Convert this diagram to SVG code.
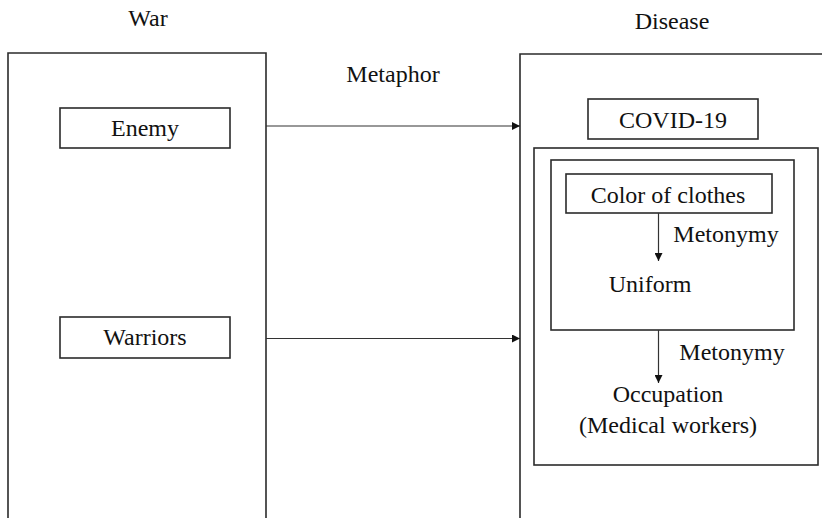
<svg xmlns="http://www.w3.org/2000/svg" width="822" height="518" viewBox="0 0 822 518">
  <style>
    .box { fill: none; stroke: #2b2b2b; stroke-width: 1.6; }
    .lbl { font-family: 'Liberation Serif', 'Times New Roman', serif; font-size: 24px; fill: #111; text-anchor: middle; }
    .link { stroke: #333; stroke-width: 1.2; fill: none; }
  </style>
  <defs>
    <marker id="arrow" viewBox="0 0 10 10" refX="10" refY="5" markerWidth="8" markerHeight="8" markerUnits="userSpaceOnUse" orient="auto">
      <path d="M0,0 L10,5 L0,10 Z" fill="#111"/>
    </marker>
  </defs>

  <rect width="822" height="518" fill="#fff"/>

  <!-- source domain -->
  <g id="war">
    <text class="lbl" x="148" y="26">War</text>
    <path class="box" d="M8,520 V53 H266 V520"/>
  </g>
  <g id="enemy">
    <rect class="box" x="60" y="108" width="170" height="40"/>
    <text class="lbl" x="145" y="136">Enemy</text>
  </g>
  <g id="warriors">
    <rect class="box" x="60" y="317" width="170" height="41"/>
    <text class="lbl" x="145" y="345">Warriors</text>
  </g>

  <!-- target domain -->
  <g id="disease">
    <text class="lbl" x="672" y="29">Disease</text>
    <path class="box" d="M520,520 V54 H824"/>
  </g>
  <g id="covid">
    <rect class="box" x="588" y="99" width="170" height="40"/>
    <text class="lbl" x="673" y="128">COVID-19</text>
  </g>
  <g id="occupation-frame">
    <rect class="box" x="534" y="148" width="284" height="317"/>
    <text class="lbl" x="668" y="402">Occupation</text>
    <text class="lbl" x="668" y="433">(Medical workers)</text>
  </g>
  <g id="uniform-frame">
    <rect class="box" x="551" y="160" width="243" height="170"/>
    <text class="lbl" x="650" y="292">Uniform</text>
  </g>
  <g id="color-of-clothes">
    <rect class="box" x="566" y="174" width="206" height="39"/>
    <text class="lbl" x="668" y="203">Color of clothes</text>
  </g>

  <!-- connectors -->
  <g id="connectors">
    <line class="link" x1="266" y1="126" x2="520" y2="126" marker-end="url(#arrow)"/>
    <line class="link" x1="266" y1="338.5" x2="520" y2="338.5" marker-end="url(#arrow)"/>
    <text class="lbl" x="393" y="82">Metaphor</text>
    <line class="link" x1="658.5" y1="213" x2="658.5" y2="261" marker-end="url(#arrow)"/>
    <text class="lbl" x="726" y="242">Metonymy</text>
    <line class="link" x1="658.5" y1="330" x2="658.5" y2="383" marker-end="url(#arrow)"/>
    <text class="lbl" x="732" y="360">Metonymy</text>
  </g>
</svg>
